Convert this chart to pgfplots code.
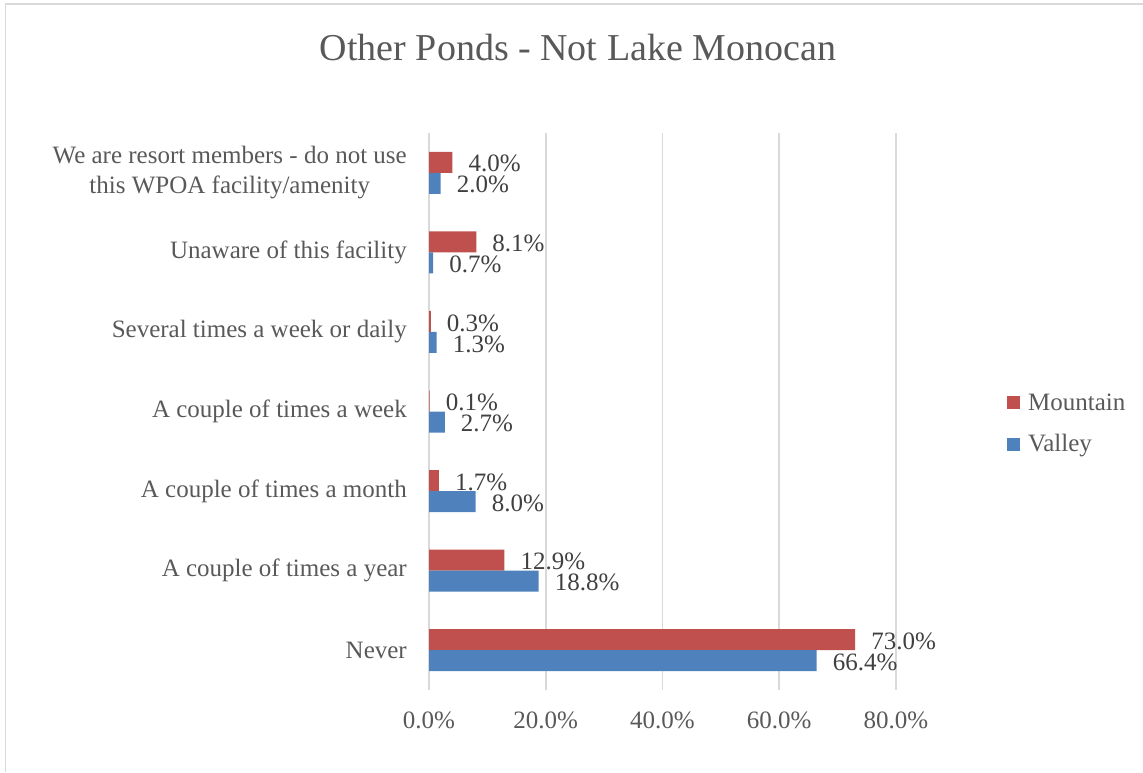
\documentclass[border=0pt]{standalone}
\usepackage{pgfplots}
\pgfplotsset{compat=1.18}
\usepackage{fontspec}
\setmainfont{Liberation Serif}
\definecolor{mred}{HTML}{C0504D}
\definecolor{vblue}{HTML}{4F81BD}
\definecolor{txt}{HTML}{595959}
\definecolor{lbl}{HTML}{404040}
\definecolor{grd}{HTML}{D9D9D9}
\begin{document}
\begin{tikzpicture}
\path[use as bounding box] (0,0) rectangle (1143pt,772pt);
\draw[grd, line width=1.5pt] (5.5pt,0) -- (5.5pt,768pt) -- (1143pt,768pt);
\node[anchor=base, text=txt, inner sep=0pt] at (578pt,711pt) {\fontsize{38}{44}\selectfont Other Ponds - Not Lake Monocan};
\begin{axis}[
  at={(429pt,82pt)}, anchor=south west,
  scale only axis, width=467pt, height=557pt,
  xbar, bar width=21pt,
  xmin=0, xmax=80, ymin=-0.5, ymax=6.5,
  axis line style={draw=none},
  major tick length=0pt,
  xmajorgrids, major grid style={grd, line width=1.5pt},
  xtick={0,20,40,60,80},
  xticklabel={\pgfmathprintnumber[fixed,fixed zerofill,precision=1]{\tick}\%},
  xticklabel style={anchor=north, inner sep=0pt, yshift=-22pt, text=txt, font=\fontsize{25}{30}\selectfont},
  /pgf/number format/assume math mode=true,
  ytick={0,1,2,3,4,5,6},
  yticklabels={Never, A couple of times a year, A couple of times a month, A couple of times a week, Several times a week or daily, Unaware of this facility, {We are resort members - do not use\\this WPOA facility/amenity}},
  yticklabel style={anchor=east, align=center, inner sep=0pt, xshift=-22pt, text=txt, font=\fontsize{25}{30}\selectfont},
  point meta=x,
  nodes near coords={\pgfmathprintnumber[fixed,fixed zerofill,precision=1]{\pgfplotspointmeta}\%},
  nodes near coords align={horizontal},
  every node near coord/.append style={anchor=west, inner sep=0pt, xshift=16pt, yshift=-1.5pt, text=lbl, font=\fontsize{25}{30}\selectfont},
  legend style={at={(1.231,0.4785)}, anchor=west, draw=none, fill=none, text=txt, font=\fontsize{25}{30}\selectfont, row sep=19pt, nodes={inner sep=2pt}},
  legend cell align=left,
]
\addplot[fill=mred, draw=none, bar shift=10.5pt, legend image code/.code={\fill[mred] (0pt,-6.5pt) rectangle (13pt,6.5pt); \path (19pt,0pt);}] coordinates {
(73.0,0) (12.9,1) (1.7,2) (0.1,3) (0.3,4) (8.1,5) (4.0,6)};
\addlegendentry{Mountain}
\addplot[fill=vblue, draw=none, bar shift=-10.5pt, legend image code/.code={\fill[vblue] (0pt,-6.5pt) rectangle (13pt,6.5pt); \path (19pt,0pt);}] coordinates {
(66.4,0) (18.8,1) (8.0,2) (2.7,3) (1.3,4) (0.7,5) (2.0,6)};
\addlegendentry{Valley}
\end{axis}
\end{tikzpicture}
\end{document}
